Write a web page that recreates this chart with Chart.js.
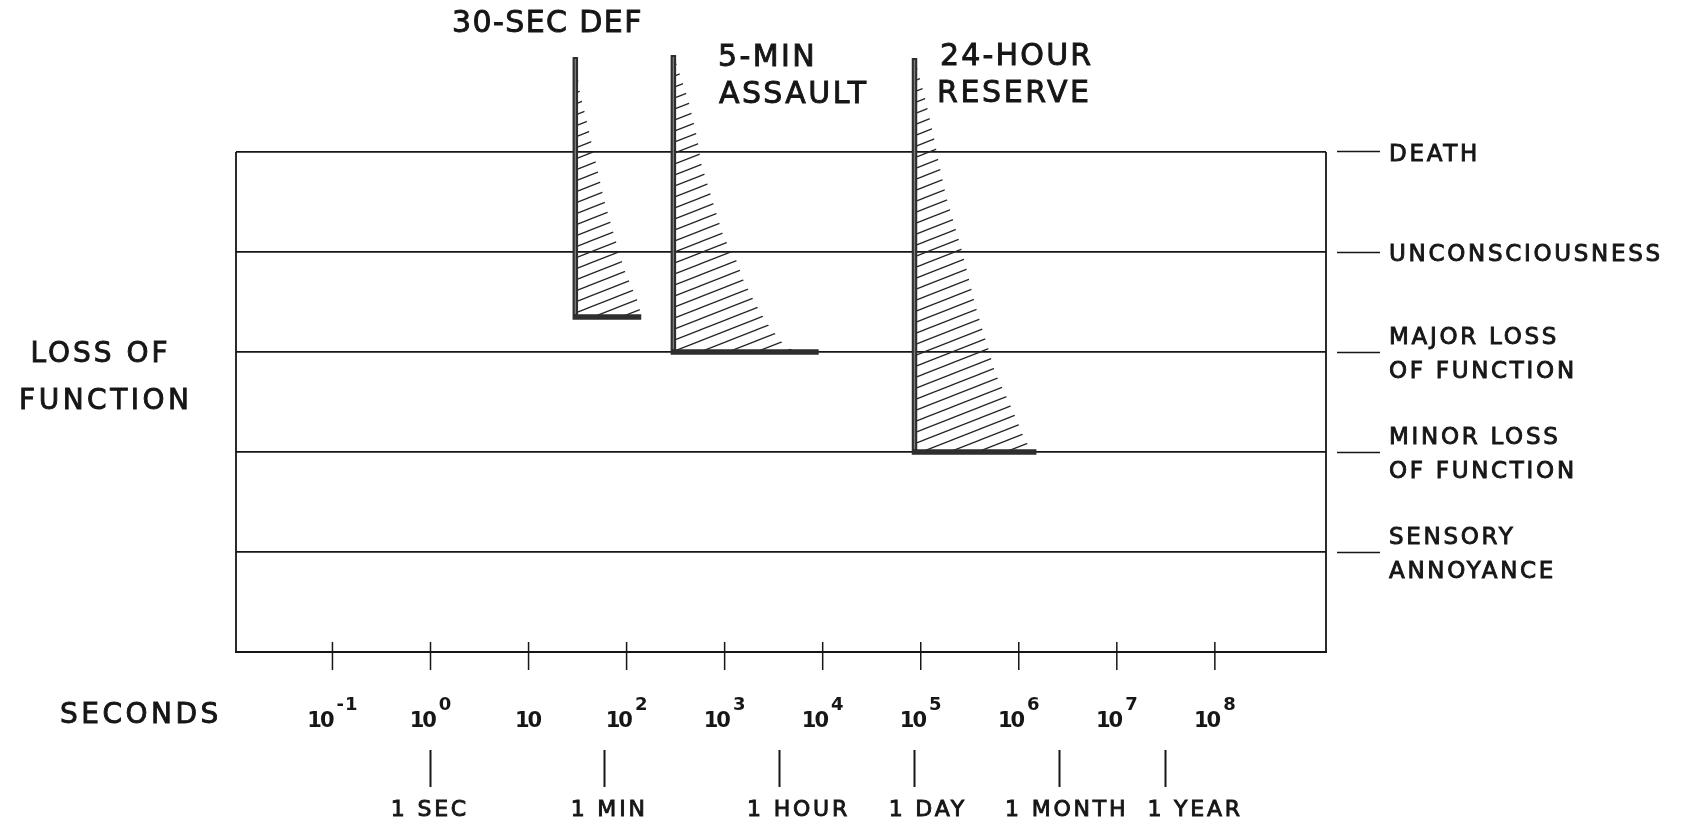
<!DOCTYPE html>
<html>
<head>
<meta charset="utf-8">
<title>Loss of function versus time</title>
<script src="https://cdn.jsdelivr.net/npm/chart.js@4.4.1/dist/chart.umd.min.js"></script>
<style>
  html, body { margin: 0; padding: 0; background: #ffffff; }
  #wrap { width: 1690px; height: 827px; position: relative; }
</style>
</head>
<body>
<div id="wrap"><canvas id="chart"></canvas></div>
<script>
// Severity levels on the right-hand scale (0 = bottom of the frame)
const levelValues = [1, 2, 3, 4, 5];
const levelLabels = [
  ['SENSORY', 'ANNOYANCE'],
  ['MINOR LOSS', 'OF FUNCTION'],
  ['MAJOR LOSS', 'OF FUNCTION'],
  ['UNCONSCIOUSNESS'],
  ['DEATH']
];

// Decade ticks of the seconds axis
const decadeExponents = [-1, 0, 1, 2, 3, 4, 5, 6, 7, 8];
const decadeBase = ['10', '10', '10', '10', '10', '10', '10', '10', '10', '10'];
const decadeSuperscripts = ['-1', '0', '', '2', '3', '4', '5', '6', '7', '8'];

// Calendar marks under the seconds axis
const timeMarkSeconds = [1, 60, 3600, 86400, 2592000, 31536000];
const timeMarkLabels = ['1 SEC', '1 MIN', '1 HOUR', '1 DAY', '1 MONTH', '1 YEAR'];

// Mission profiles: onset time, top of the bar, level of the base, end of the base
const missionNames = [['30-SEC DEF'], ['5-MIN', 'ASSAULT'], ['24-HOUR', 'RESERVE']];
const onsetSeconds = [30, 300, 86400];
const topLevel = [5.95, 5.97, 5.94];
const baseLevel = [3.35, 3.0, 2.0];
const baseEndSeconds = [141, 9100, 1514000];

// Right-hand edge of each hatched region (seconds, level)
const defEdgeSeconds = [33, 39, 46, 59, 72, 95, 132, 141];
const defEdgeLevels = [5.62, 5.32, 5.0, 4.52, 4.22, 3.82, 3.49, 3.35];
const assaultEdgeSeconds = [427, 525, 575, 759, 977, 1290, 1550, 2040, 2690, 3890, 5250];
const assaultEdgeLevels = [5.52, 5.14, 4.89, 4.50, 4.15, 3.94, 3.72, 3.49, 3.29, 3.09, 3.0];
const reserveEdgeSeconds = [112000, 138000, 151000, 182000, 224000, 257000, 295000, 355000,
  427000, 501000, 575000, 759000, 955000, 1175000, 1514000];
const reserveEdgeLevels = [5.52, 5.12, 4.92, 4.55, 4.25, 4.05, 3.82, 3.49,
  3.22, 3.00, 2.79, 2.54, 2.32, 2.10, 2.0];

const edgeSeconds = [defEdgeSeconds, assaultEdgeSeconds, reserveEdgeSeconds];
const edgeLevels = [defEdgeLevels, assaultEdgeLevels, reserveEdgeLevels];

const INK = '#161616';
const FONT = '"DejaVu Sans", "Liberation Sans", sans-serif';

function makeHatch() {
  const w = 28, h = 11;
  const c = document.createElement('canvas');
  c.width = w; c.height = h;
  const g = c.getContext('2d');
  g.strokeStyle = '#262626';
  g.lineWidth = 1.3;
  for (const dy of [-h, 0, h]) {
    g.beginPath();
    g.moveTo(-w, 2 * h + dy);
    g.lineTo(2 * w, -h + dy);
    g.stroke();
  }
  return g.createPattern(c, 'repeat');
}
const hatch = makeHatch();

const datasets = [];
for (let i = 0; i < onsetSeconds.length; i++) {
  // hatched region between the onset bar and the edge curve
  const region = [{ x: onsetSeconds[i], y: topLevel[i] }];
  for (let j = 0; j < edgeSeconds[i].length; j++) {
    region.push({ x: edgeSeconds[i][j], y: edgeLevels[i][j] });
  }
  const last = edgeLevels[i][edgeLevels[i].length - 1];
  if (last !== baseLevel[i]) {
    region.push({ x: edgeSeconds[i][edgeSeconds[i].length - 1], y: baseLevel[i] });
  }
  region.push({ x: onsetSeconds[i], y: baseLevel[i] });
  datasets.push({
    label: missionNames[i].join(' ') + ' region',
    data: region,
    fill: 'shape',
    backgroundColor: hatch,
    borderWidth: 0,
    pointRadius: 0,
    tension: 0,
    order: 3
  });
  // L-shaped profile: onset bar and base
  datasets.push({
    label: missionNames[i].join(' '),
    data: [
      { x: onsetSeconds[i], y: topLevel[i] },
      { x: onsetSeconds[i], y: baseLevel[i] },
      { x: baseEndSeconds[i], y: baseLevel[i] }
    ],
    fill: false,
    borderColor: '#2e2e2e',
    borderWidth: 5.5,
    borderJoinStyle: 'miter',
    borderCapStyle: 'butt',
    pointRadius: 0,
    tension: 0,
    order: 2
  });
  // lighter core of the onset bar
  datasets.push({
    label: missionNames[i].join(' ') + ' bar core',
    data: [
      { x: onsetSeconds[i], y: topLevel[i] - 0.02 },
      { x: onsetSeconds[i], y: baseLevel[i] + 0.03 }
    ],
    fill: false,
    borderColor: '#7e7e7e',
    borderWidth: 1.3,
    pointRadius: 0,
    order: 1
  });
}

function spacedText(ctx, str, x, y, size, spacing, align, weight) {
  ctx.font = (weight || 'normal') + ' ' + size + 'px ' + FONT;
  ctx.letterSpacing = spacing + 'px';
  ctx.textAlign = 'left';
  ctx.textBaseline = 'middle';
  const w = ctx.measureText(str).width - spacing;
  let x0 = x;
  if (align === 'center') x0 = x - w / 2;
  else if (align === 'right') x0 = x - w;
  ctx.fillText(str, x0, y);
  ctx.lineWidth = 0.9;
  ctx.strokeText(str, x0, y);
  return w;
}

// horizontal shift of each calendar label from its mark
const timeLabelShift = [-2, 3, 18, 12, 6, 28];

const decorations = {
  id: 'decorations',
  beforeDraw(chart) {
    // letter spacing used by the level labels on the right-hand axis
    chart.ctx.letterSpacing = '2.7px';
  },
  afterDraw(chart) {
    const ctx = chart.ctx;
    const xs = chart.scales.x;
    const ys = chart.scales.y;
    const x2 = chart.scales.x2;
    ctx.save();
    ctx.fillStyle = INK;
    ctx.strokeStyle = INK;

    // frame sides, from the top level down to the axis
    const yTop = ys.getPixelForValue(5);
    const yBot = ys.getPixelForValue(0);
    ctx.lineWidth = 1.8;
    ctx.beginPath();
    ctx.moveTo(xs.left, yTop); ctx.lineTo(xs.left, yBot);
    ctx.moveTo(xs.right, yTop); ctx.lineTo(xs.right, yBot);
    ctx.stroke();

    // decade ticks crossing the axis, with powers-of-ten labels
    for (let i = 0; i < decadeExponents.length; i++) {
      const px = xs.getPixelForValue(Math.pow(10, decadeExponents[i]));
      ctx.lineWidth = 1.5;
      ctx.beginPath();
      ctx.moveTo(px, yBot - 10);
      ctx.lineTo(px, yBot + 18);
      ctx.stroke();

      ctx.textBaseline = 'alphabetic';
      ctx.textAlign = 'left';
      ctx.font = 'bold 21px ' + FONT;
      ctx.letterSpacing = '-2px';
      const wb = ctx.measureText(decadeBase[i]).width + 2;
      ctx.font = 'bold 18px ' + FONT;
      ctx.letterSpacing = '1px';
      const sup = decadeSuperscripts[i];
      const ws = sup ? ctx.measureText(sup).width - 1 : 0;
      const gap = sup ? 2 : 0;
      const x0 = px - (wb + gap + ws) / 2;
      ctx.font = 'bold 21px ' + FONT;
      ctx.letterSpacing = '-2px';
      ctx.fillText(decadeBase[i], x0, yBot + 75);
      if (sup) {
        ctx.font = 'bold 18px ' + FONT;
        ctx.letterSpacing = '1px';
        ctx.fillText(sup, x0 + wb + gap, yBot + 58);
      }
    }

    // calendar labels under their marks
    for (let i = 0; i < timeMarkSeconds.length; i++) {
      const px = x2.getPixelForValue(timeMarkSeconds[i]) + timeLabelShift[i];
      spacedText(ctx, timeMarkLabels[i], px, x2.top + 60, 22, 2.8, 'center');
    }

    // axis titles
    spacedText(ctx, 'SECONDS', 60, yBot + 64, 28, 3.5, 'left');
    spacedText(ctx, 'LOSS OF', 99, 355, 28, 3, 'center');
    spacedText(ctx, 'FUNCTION', 104, 402, 28, 3.5, 'center');

    // mission names above the profiles
    spacedText(ctx, missionNames[0][0], 452, 24, 30, 1.4, 'left');
    spacedText(ctx, missionNames[1][0], 718, 58, 30, 2.4, 'left');
    spacedText(ctx, missionNames[1][1], 719, 95, 30, 2.4, 'left');
    spacedText(ctx, missionNames[2][0], 940, 57, 30, 2.2, 'left');
    spacedText(ctx, missionNames[2][1], 937, 94, 30, 2.6, 'left');

    ctx.restore();
  }
};

new Chart(document.getElementById('chart'), {
  type: 'line',
  data: { datasets },
  plugins: [decorations],
  options: {
    responsive: true,
    maintainAspectRatio: false,
    animation: false,
    devicePixelRatio: 1,
    events: [],
    layout: { padding: { left: 0, right: 0, top: 52, bottom: 0 } },
    plugins: {
      legend: { display: false },
      tooltip: { enabled: false },
      filler: { propagate: false }
    },
    scales: {
      x: {
        type: 'logarithmic',
        position: 'bottom',
        weight: 0,
        min: 0.01038,
        max: 1.36e9,
        bounds: 'data',
        afterBuildTicks: (s) => { s.ticks = decadeExponents.map(e => ({ value: Math.pow(10, e) })); },
        afterFit: (s) => { s.height = 98; },
        ticks: { display: false },
        grid: { drawOnChartArea: false, drawTicks: false },
        border: { display: true, color: INK, width: 2 }
      },
      x2: {
        type: 'logarithmic',
        position: 'bottom',
        weight: 1,
        min: 0.01038,
        max: 1.36e9,
        bounds: 'data',
        afterBuildTicks: (s) => { s.ticks = timeMarkSeconds.map(v => ({ value: v })); },
        afterFit: (s) => { s.height = 77; },
        ticks: { display: false },
        grid: {
          drawOnChartArea: false,
          drawTicks: true,
          tickLength: 37,
          tickWidth: 2,
          tickColor: INK
        },
        border: { display: false }
      },
      y: {
        type: 'linear',
        position: 'left',
        min: 0,
        max: 6,
        afterBuildTicks: (s) => { s.ticks = levelValues.map(v => ({ value: v })); },
        afterFit: (s) => { s.width = 236; },
        ticks: { display: false },
        grid: { color: INK, lineWidth: 1.8, drawTicks: false },
        border: { display: false }
      },
      levels: {
        type: 'linear',
        position: 'right',
        min: 0,
        max: 6,
        afterBuildTicks: (s) => { s.ticks = levelValues.map(v => ({ value: v })); },
        afterFit: (s) => { s.width = 364; },
        ticks: {
          autoSkip: false,
          padding: 9,
          labelOffset: 3,
          color: INK,
          textStrokeColor: INK,
          textStrokeWidth: 0.9,
          font: { family: FONT, size: 23, lineHeight: 1.45 },
          callback: (v, i) => levelLabels[i]
        },
        grid: {
          drawOnChartArea: false,
          drawTicks: true,
          tickLength: 54,
          tickWidth: 1.6,
          tickColor: INK,
          tickBorderDash: [0, 11, 43, 300]
        },
        border: { display: false }
      }
    }
  }
});
</script>
</body>
</html>
